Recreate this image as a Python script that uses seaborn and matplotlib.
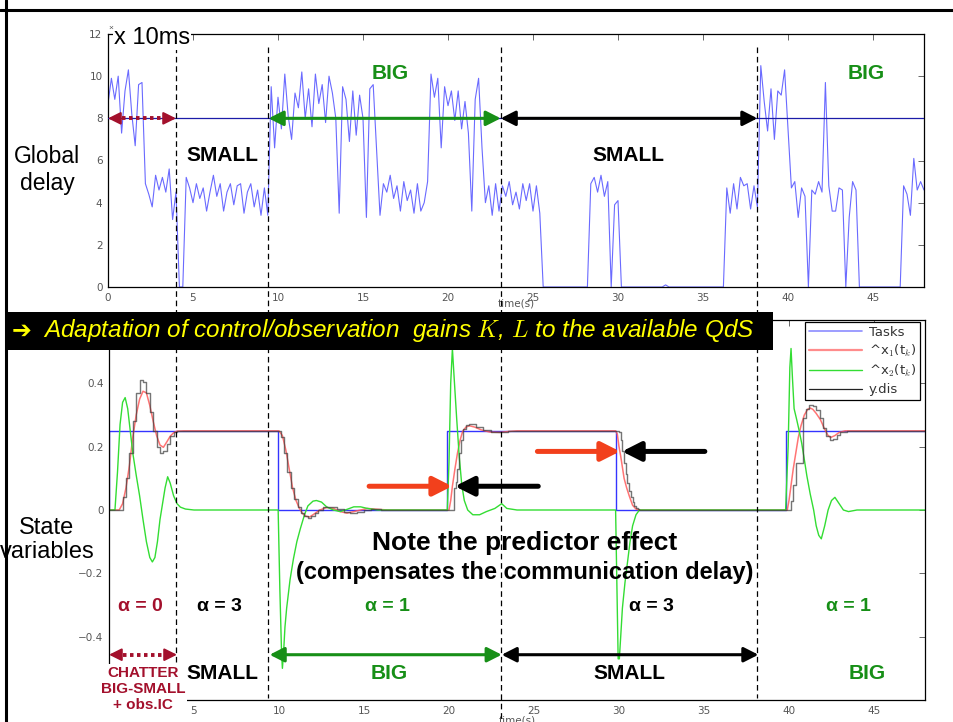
import numpy as np
import matplotlib
matplotlib.use("Agg")
import matplotlib.pyplot as plt
from matplotlib.lines import Line2D
from matplotlib.patches import Rectangle
import seaborn as sns

# ---------------------------------------------------------------- data
SAMPLE_DT = 0.2  # s, sampling period of the delay log

# global network delay, in units of 10 ms
global_delay = [
    8.7, 9.9, 8.9, 10.0, 7.3, 9.3, 10.3, 8.2, 6.7, 9.6, 9.7,
    4.9, 4.4, 3.8, 5.3, 4.6, 5.2, 4.5, 5.6, 3.2, 4.5,
    0.0, 0.0,
    5.2, 4.7, 4.0, 4.9, 4.2, 4.7, 3.6, 4.5, 5.3, 4.3, 4.9, 3.6,
    4.5, 4.9, 3.9, 4.8, 4.9, 3.5, 4.5, 4.9, 3.8, 4.6, 3.4, 4.7,
    3.4,
    9.5, 6.6, 9.0, 7.5, 10.1, 8.1, 7.0, 9.2, 8.5, 10.2,
    8.0, 9.4, 7.6, 10.1, 8.7, 9.6, 7.8, 10.0, 9.2, 8.0,
    3.5, 9.5, 8.9, 6.9, 9.3, 7.2, 9.1, 8.0, 3.3, 9.4, 9.6, 6.5, 3.4,
    4.9, 4.5, 5.3, 4.2, 4.8, 3.6, 5.0, 4.1, 4.6, 3.5, 4.9, 3.6, 4.0, 5.0,
    10.1, 9.0, 9.9, 6.6, 9.5, 8.6, 9.3, 7.9, 9.3, 7.5, 8.8, 7.3, 3.6, 8.9, 9.9, 6.6, 4.0,
    4.8, 3.4, 4.9, 3.6, 4.8, 4.3, 5.0, 3.9, 4.5, 3.7, 4.9, 4.1, 4.9, 3.6, 4.8, 3.5,
    0.0, 0.0, 0.0, 0.0, 0.0, 0.0, 0.0, 0.0, 0.0, 0.0, 0.0, 0.0, 0.0, 0.0,
    4.9, 5.2, 4.5, 5.3, 4.3, 5.0, 0.0, 3.9, 4.1, 0.0,
    0.0, 0.0, 0.0, 0.0, 0.0, 0.0, 0.0, 0.0, 0.0, 0.0, 0.0, 0.0, 0.1, 0.0, 0.0,
    0.0, 0.0, 0.0, 0.0, 0.0, 0.0, 0.0, 0.0, 0.0, 0.0, 0.0, 0.0, 0.0, 0.0, 0.0,
    4.7, 3.5, 4.9, 3.7, 5.2, 4.8, 4.9, 3.7, 4.8, 3.8,
    10.5, 8.8, 7.4, 9.4, 7.0, 9.3, 9.1, 10.3, 7.5, 4.7,
    5.0, 3.3, 4.7, 4.3, 0.0, 4.6, 4.4, 5.0, 4.5, 9.7,
    4.8, 3.6, 3.6, 4.7, 4.6, 0.0, 3.3, 5.0, 4.6, 0.0,
    0.0, 0.0, 0.0, 0.0, 0.0, 0.0, 0.0, 0.0, 0.0, 0.0, 0.0, 0.0,
    4.8, 4.4, 3.4, 6.1, 4.6, 5.0, 4.6,
]
delay_threshold = 8.0

# reference tasks (step set-points)
task_t = [0, 0, 9.95, 19.9, 29.8, 39.8, 48.0]
task_v = [0, 0.25, 0, 0.25, 0, 0.25, 0.25]

# estimated state ^x1(tk)
x1_t = [0, 0.6, 0.8, 1.0, 1.2, 1.4, 1.6, 1.8, 2.0, 2.2, 2.4, 2.6, 2.8, 3.0, 3.2, 3.4, 3.6, 3.8, 4.0, 4.4,
        10.0, 10.2, 10.4, 10.6, 10.8, 11.0, 11.2, 11.4, 11.6, 11.8, 12.0, 12.4, 12.8, 13.2, 13.6, 14.0, 14.4,
        14.8, 15.2, 15.6, 16.4,
        20.0, 20.1, 20.2, 20.35, 20.5, 20.65, 20.8, 21.0, 21.2, 21.5, 21.9, 22.4, 23.0, 23.5, 24.0,
        29.8, 29.9, 30.0, 30.1, 30.2, 30.3, 30.45, 30.6, 30.8, 31.0, 31.2,
        39.9, 40.0, 40.1, 40.25, 40.4, 40.55, 40.7, 40.9, 41.1, 41.25, 41.4, 41.6, 41.85, 42.1, 42.3, 42.45,
        42.7, 42.95, 43.3, 48.0]
x1_v = [0, 0, 0.02, 0.07, 0.14, 0.23, 0.30, 0.35, 0.375, 0.37, 0.33, 0.28, 0.235, 0.205, 0.198, 0.215, 0.233,
        0.244, 0.249, 0.25,
        0.25, 0.235, 0.19, 0.13, 0.07, 0.03, 0.005, -0.012, -0.02, -0.022, -0.015, 0.0, 0.008, 0.005, -0.005,
        -0.01, -0.005, 0.0, 0.005, 0.003, 0.0,
        0.0, 0.03, 0.075, 0.13, 0.18, 0.22, 0.248, 0.262, 0.266, 0.262, 0.253, 0.246, 0.245, 0.248, 0.25,
        0.25, 0.24, 0.2, 0.17, 0.135, 0.1, 0.07, 0.045, 0.015, 0.003, 0.0,
        0.0, 0.03, 0.07, 0.13, 0.18, 0.23, 0.265, 0.3, 0.318, 0.322, 0.318, 0.305, 0.285, 0.255, 0.235, 0.229,
        0.235, 0.245, 0.25, 0.25]

# estimated state ^x2(tk)
x2_t = [0, 0.35, 0.5, 0.65, 0.8, 0.95, 1.1, 1.25, 1.4, 1.6, 1.8, 2.0, 2.2, 2.4, 2.55, 2.7, 2.85, 3.0, 3.15,
        3.3, 3.45, 3.6, 3.8, 4.0, 4.2, 4.5, 5.0,
        9.95, 10.05, 10.15, 10.2, 10.27, 10.35, 10.45, 10.65, 10.85, 11.05, 11.25, 11.5, 11.7, 12.0, 12.2,
        12.5, 12.8, 13.2, 13.6, 14.0, 14.4, 14.8, 15.2, 15.8,
        19.9, 20.0, 20.1, 20.2, 20.3, 20.45, 20.6, 20.75, 20.9, 21.1, 21.4, 21.8, 22.2, 22.7, 23.1, 23.4, 24.0,
        29.8, 29.88, 29.95, 30.02, 30.1, 30.2, 30.35, 30.5, 30.65, 30.8, 31.0, 31.2,
        39.8, 39.95, 40.05, 40.12, 40.2, 40.3, 40.45, 40.6, 40.75, 40.9, 41.05, 41.25, 41.45, 41.6, 41.75,
        41.9, 42.1, 42.3, 42.5, 42.7, 42.95, 43.2, 43.5, 44.0, 48.0]
x2_v = [0, 0.0, 0.12, 0.27, 0.34, 0.355, 0.32, 0.25, 0.18, 0.11, 0.045, -0.03, -0.1, -0.15, -0.164, -0.15,
        -0.1, -0.03, 0.02, 0.07, 0.105, 0.085, 0.045, 0.02, 0.009, 0.003, 0.0,
        0.0, -0.25, -0.45, -0.5, -0.45, -0.37, -0.31, -0.22, -0.154, -0.1, -0.06, -0.015, 0.013, 0.028, 0.03,
        0.025, 0.01, 0.0, -0.005, 0.002, 0.01, 0.01, 0.005, 0.0,
        0.0, 0.15, 0.4, 0.51, 0.42, 0.29, 0.17, 0.08, 0.03, 0.0, -0.015, -0.015, -0.005, 0.005, 0.02, 0.005, 0.0,
        0.0, -0.25, -0.47, -0.47, -0.4, -0.31, -0.23, -0.165, -0.1, -0.05, -0.015, 0.0,
        0.0, 0.2, 0.45, 0.51, 0.42, 0.32, 0.286, 0.25, 0.21, 0.16, 0.108, 0.05, 0.0, -0.05, -0.08,
        -0.091, -0.05, 0.0, 0.03, 0.04, 0.02, 0.0, -0.005, 0.0, 0.0]

# measured output y.dis (sample and hold)
ydis_t = [0, 0.6, 0.8, 1.0, 1.2, 1.4, 1.6, 1.8, 2.0, 2.2, 2.4, 2.6, 2.8, 3.0, 3.2, 3.4, 3.6, 3.8, 4.0,
          10.1, 10.3, 10.5, 10.7, 10.9, 11.1, 11.3, 11.5, 11.7, 11.9, 12.1, 12.3, 12.6, 13.0, 13.4, 13.8,
          14.2, 14.6, 15.0, 15.4, 16.0,
          20.2, 20.3, 20.4, 20.5, 20.6, 20.7, 20.85, 21.0, 21.2, 21.6, 22.0, 22.5, 23.0, 23.5, 24.0,
          30.0, 30.1, 30.2, 30.3, 30.4, 30.5, 30.6, 30.7, 30.8, 30.9, 31.0, 31.1, 31.2,
          40.0, 40.1, 40.25, 40.4, 40.8, 41.0, 41.2, 41.4, 41.6, 41.8, 42.0, 42.2, 42.4, 42.6, 42.8, 43.0,
          43.4, 48.0]
ydis_v = [0, 0.0, 0.04, 0.1, 0.18, 0.28, 0.37, 0.41, 0.405, 0.37, 0.31, 0.25, 0.2, 0.18, 0.185, 0.21, 0.235,
          0.245, 0.25,
          0.23, 0.18, 0.12, 0.07, 0.035, 0.01, -0.01, -0.02, -0.025, -0.02, -0.01, 0.0, 0.008, 0.01, 0.003,
          -0.006, -0.01, -0.005, 0.0, 0.004, 0.0,
          0.0, 0.07, 0.09, 0.13, 0.18, 0.22, 0.255, 0.27, 0.272, 0.262, 0.252, 0.245, 0.246, 0.249, 0.25,
          0.245, 0.22, 0.185, 0.15, 0.115, 0.085, 0.06, 0.04, 0.025, 0.014, 0.006, 0.002, 0.0,
          0.0, 0.03, 0.08, 0.15, 0.29, 0.32, 0.333, 0.33, 0.315, 0.29, 0.26, 0.235, 0.22, 0.225, 0.238,
          0.246, 0.25, 0.25]

# network regimes and switching instants (s)
switch_times = [4.0, 9.4, 23.1, 38.2]
regime_spans = [(0.0, 4.0), (9.45, 23.1), (23.1, 38.2)]
regime_names = ["SMALL", "BIG", "SMALL", "BIG"]
alpha_labels = ["α = 0", "α = 3", "α = 1", "α = 3", "α = 1"]

# ---------------------------------------------------------------- style
sns.set_style("white")
plt.rcParams["font.family"] = ["Liberation Sans", "DejaVu Sans"]
plt.rcParams["mathtext.fontset"] = "cm"
plt.rcParams["text.color"] = "black"

DARKRED = "#a3102c"
GREEN = "#178f17"
ORANGE = "#f2401c"
TICKFONT = dict(family=["DejaVu Sans"], size=7.5)

W, H = 954, 722
fig = plt.figure(figsize=(W / 100, H / 100), dpi=100)


def fx(px):
    return px / W


def fy(py):
    return 1 - py / H


def style_axes(ax):
    for s in ax.spines.values():
        s.set_visible(True)
        s.set_color("black")
        s.set_linewidth(0.9)
    ax.tick_params(direction="in", length=4, width=0.7, color="#666666",
                   labelcolor="#555555", top=True, right=True, pad=4)
    for lab in ax.get_xticklabels() + ax.get_yticklabels():
        lab.set_fontfamily(TICKFONT["family"])
        lab.set_fontsize(TICKFONT["size"])


def trace(ax, t, v, **kw):
    sns.lineplot(x=np.asarray(t, float), y=np.asarray(v, float), ax=ax,
                 estimator=None, sort=False, errorbar=None, legend=False, **kw)


def double_arrow(ax, x0, x1, y, color, dotted=False, lw=2.2):
    head = "-|>,head_length=0.5,head_width=0.25"
    if dotted:
        ax.plot([x0 + 0.4, x1 - 0.4], [y, y], color=color, lw=lw + 0.6,
                ls=(0, (0.9, 0.9)), solid_capstyle="butt", zorder=6)
        for tail, tip in ((x0 + 0.45, x0), (x1 - 0.45, x1)):
            ax.annotate("", xy=(tip, y), xytext=(tail, y), annotation_clip=False,
                        arrowprops=dict(arrowstyle=head, color=color, lw=1.5,
                                        shrinkA=0, shrinkB=0, mutation_scale=15), zorder=6)
    else:
        ax.annotate("", xy=(x1, y), xytext=(x0, y), annotation_clip=False,
                    arrowprops=dict(arrowstyle="<|-|>,head_length=0.55,head_width=0.28",
                                    color=color, lw=lw, shrinkA=0, shrinkB=0,
                                    mutation_scale=16), zorder=6)


def pointer(ax, x0, x1, y, color):
    ax.annotate("", xy=(x1, y), xytext=(x0, y), annotation_clip=False,
                arrowprops=dict(arrowstyle="-|>,head_length=0.75,head_width=0.38",
                                color=color, lw=3.6, shrinkA=0, shrinkB=0,
                                mutation_scale=15), zorder=7)


# ---------------------------------------------------------------- top: global delay
ax1 = fig.add_axes([fx(108), fy(287), fx(924) - fx(108), fy(34) - fy(287)])
delay_time = np.arange(len(global_delay)) * SAMPLE_DT
trace(ax1, delay_time, global_delay, color="#5050ff", lw=0.8, alpha=0.85)
ax1.axhline(delay_threshold, color="#1c1ca8", lw=0.9, zorder=3)
ax1.set_xlim(0, 48)
ax1.set_ylim(0, 12)
ax1.set_xticks(np.arange(0, 46, 5))
ax1.set_yticks(np.arange(0, 13, 2))
ax1.set_xlabel("time(s)", fontsize=7.5, color="#555555", labelpad=-3,
               fontfamily=["DejaVu Sans"])
ax1.set_ylabel("")
style_axes(ax1)

double_arrow(ax1, *regime_spans[0], delay_threshold, DARKRED, dotted=True)
double_arrow(ax1, *regime_spans[1], delay_threshold, GREEN)
double_arrow(ax1, *regime_spans[2], delay_threshold, "black")

for name, x, y in zip(regime_names, [6.75, 16.6, 30.6, 44.6], [6.26, 10.15, 6.26, 10.15]):
    ax1.text(x, y, name, ha="center", va="center", fontsize=15, fontweight="bold",
             color=GREEN if name == "BIG" else "black", zorder=8)

# ---------------------------------------------------------------- bottom: state variables
ax2 = fig.add_axes([fx(109), fy(700), fx(925) - fx(109), fy(320) - fy(700)])
trace(ax2, task_t, task_v, color="#3434ff", lw=1.0, drawstyle="steps-post")
trace(ax2, x1_t, x1_v, color="#ff5c5c", lw=1.1, alpha=0.85)
trace(ax2, x2_t, x2_v, color="#33dd33", lw=1.0)
trace(ax2, ydis_t, ydis_v, color="#3a3a3a", lw=1.0, alpha=0.7, drawstyle="steps-post")
ax2.set_xlim(0, 48)
ax2.set_ylim(-0.6, 0.6)
ax2.set_xticks(np.arange(0, 46, 5))
ax2.set_yticks([-0.4, -0.2, 0, 0.2, 0.4])
ax2.set_yticklabels(["\u22120.4", "\u22120.2", "0", "0.2", "0.4"])
ax2.set_xlabel("time(s)", fontsize=7.5, color="#555555", labelpad=0,
               fontfamily=["DejaVu Sans"])
ax2.set_ylabel("")
style_axes(ax2)

handles = [Line2D([], [], color="#8c8cff", lw=1.2),
           Line2D([], [], color="#ff8c8c", lw=1.6),
           Line2D([], [], color="#33dd33", lw=1.0),
           Line2D([], [], color="#222222", lw=0.9)]
labels = ["Tasks", r"^x$_1$(t$_k$)", r"^x$_2$(t$_k$)", "y.dis"]
leg = ax2.legend(handles, labels, loc="upper right", bbox_to_anchor=(0.994, 0.995),
                 borderaxespad=0, frameon=True, fancybox=False, framealpha=1,
                 edgecolor="black", handlelength=4.0, handletextpad=0.5,
                 labelspacing=0.3, borderpad=0.3,
                 prop=dict(family=["DejaVu Sans"], size=9.5))
leg.get_frame().set_linewidth(0.9)
for txt in leg.get_texts():
    txt.set_color("#333333")

double_arrow(ax2, *regime_spans[0], -0.457, DARKRED, dotted=True)
double_arrow(ax2, *regime_spans[1], -0.457, GREEN)
double_arrow(ax2, *regime_spans[2], -0.457, "black")

for name, x in zip(regime_names, [6.7, 16.5, 30.6, 44.6]):
    ax2.text(x, -0.515, name, ha="center", va="center", fontsize=15, fontweight="bold",
             color=GREEN if name == "BIG" else "black", zorder=8)

alpha_colors = [DARKRED, "black", GREEN, "black", GREEN]
for lab, x, c in zip(alpha_labels, [1.85, 6.5, 16.4, 31.9, 43.5], alpha_colors):
    ax2.text(x, -0.305, lab, ha="center", va="center", fontsize=14, fontweight="bold",
             color=c, zorder=8)

# predictor effect: reference (red) vs. delayed measurement (black)
pointer(ax2, 15.3, 20.18, 0.075, ORANGE)
pointer(ax2, 25.25, 20.35, 0.075, "black")
pointer(ax2, 25.2, 30.06, 0.185, ORANGE)
pointer(ax2, 35.05, 30.18, 0.185, "black")

# ---------------------------------------------------------------- figure-level decorations
for t in switch_times:
    xf = fig.transFigure.inverted().transform(ax1.transData.transform((t, 0)))[0]
    y_end = 722 if t == switch_times[2] else 698
    fig.add_artist(Line2D([xf, xf], [fy(47), fy(y_end)], color="black", lw=0.9,
                          ls=(0, (4.5, 3)), zorder=3))

fig.text(fx(47), fy(170), "Global\ndelay", ha="center", va="center", fontsize=16.5,
         linespacing=1.25, zorder=6, color="black")
fig.text(fx(47), fy(540), "State\nvariables", ha="center", va="center", fontsize=17,
         linespacing=1.15, zorder=6, color="black",
         bbox=dict(facecolor="white", edgecolor="none", pad=2.5))
fig.text(fx(114), fy(38), "x 10ms", ha="left", va="center", fontsize=17, zorder=6,
         color="black", bbox=dict(facecolor="white", edgecolor="none", pad=0.8))
fig.text(fx(111), fy(28), "\u00d7", ha="center", va="center", fontsize=6,
         color="#555555", zorder=7)
fig.text(fx(143), fy(689), "CHATTER\nBIG-SMALL\n+ obs.IC", ha="center", va="center",
         fontsize=11, fontweight="bold", color=DARKRED, linespacing=1.2, zorder=6,
         bbox=dict(facecolor="white", edgecolor="none", pad=1.0))
fig.text(fx(525), fy(543), "Note the predictor effect", ha="center", va="center",
         fontsize=19, fontweight="bold", zorder=6, color="black")
fig.text(fx(525), fy(573), "(compensates the communication delay)", ha="center",
         va="center", fontsize=17, fontweight="bold", zorder=6, color="black")

# banner
fig.add_artist(Rectangle((fx(5), fy(350)), fx(773) - fx(5), fy(312) - fy(350),
                         transform=fig.transFigure, facecolor="black",
                         edgecolor="none", zorder=5))
fig.text(fx(12), fy(331), "\u2794", ha="left", va="center", fontsize=17,
         color="#ffff00", fontweight="bold", family=["DejaVu Sans"], zorder=6)
fig.text(fx(43), fy(331),
         "Adaptation of control/observation  gains $K$, $L$ to the available QdS",
         ha="left", va="center", fontsize=17.5, style="italic", color="#ffff00", zorder=6)

# frame lines of the slide
fig.add_artist(Line2D([fx(6), fx(6)], [0, 1], color="black", lw=2.2, zorder=9))
fig.add_artist(Line2D([0, 1], [fy(10), fy(10)], color="black", lw=2.2, zorder=9))

fig.savefig("out.png", dpi=100)
